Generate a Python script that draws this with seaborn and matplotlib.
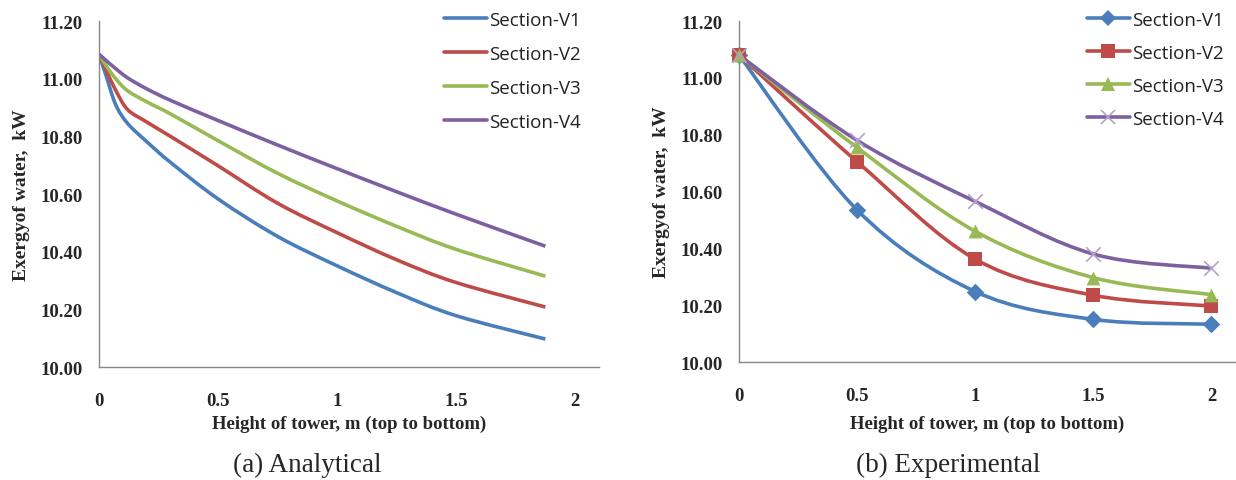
import numpy as np
import matplotlib
matplotlib.use("Agg")
import matplotlib.pyplot as plt
from matplotlib.path import Path
from matplotlib.patches import PathPatch
from matplotlib.lines import Line2D
import seaborn as sns
import pandas as pd

# data
sections = ["Section-V1", "Section-V2", "Section-V3", "Section-V4"]
colors = ["#4A7EBB", "#BE4B48", "#98B954", "#7D60A0"]
marker_colors = ["#4A7EBB", "#BE4B48", "#98B954", "#B3A2C7"]
markers = ["D", "s", "^", "x"]

# (a) analytical
h_ana = [0, 0.03, 0.07, 0.12, 0.2, 0.3, 0.5, 0.75, 1.0, 1.25, 1.5, 1.875]
ana_v1 = [11.085, 11.01, 10.91, 10.845, 10.782, 10.71, 10.583, 10.453, 10.351, 10.258, 10.178, 10.097]
ana_v2 = [11.085, 11.03, 10.96, 10.893, 10.85, 10.80, 10.698, 10.568, 10.466, 10.372, 10.293, 10.208]
ana_v3 = [11.085, 11.045, 11.0, 10.958, 10.92, 10.878, 10.785, 10.672, 10.576, 10.488, 10.408, 10.315]
ana_v4 = [11.085, 11.063, 11.035, 11.003, 10.965, 10.925, 10.855, 10.77, 10.688, 10.608, 10.53, 10.419]

# (b) experimental
h_exp = [0, 0.5, 1, 1.5, 2]
exp_v1 = [11.08, 10.535, 10.248, 10.15, 10.133]
exp_v2 = [11.08, 10.705, 10.362, 10.235, 10.197]
exp_v3 = [11.08, 10.755, 10.46, 10.297, 10.237]
exp_v4 = [11.08, 10.78, 10.565, 10.38, 10.33]

xticks = [0, 0.5, 1, 1.5, 2]
xtick_labels = ["0", "0.5", "1", "1.5", "2"]
yticks = [10.0, 10.2, 10.4, 10.6, 10.8, 11.0, 11.2]


def smooth_path(x, y):
    # Excel-like smoothed line: cubic bezier through every point
    p = np.column_stack([x, y]).astype(float)
    p = np.vstack([p[0], p, p[-1]])
    verts = [tuple(p[1])]
    codes = [Path.MOVETO]
    for i in range(1, len(p) - 2):
        c1 = p[i] + (p[i + 1] - p[i - 1]) / 6
        c2 = p[i + 1] - (p[i + 2] - p[i]) / 6
        verts += [tuple(c1), tuple(c2), tuple(p[i + 1])]
        codes += [Path.CURVE4] * 3
    return Path(verts, codes)


sns.set_style("white")
serif = ["Liberation Serif", "DejaVu Serif"]
sans = ["Open Sans", "DejaVu Sans"]
gray = "#868686"
lw = 2.6

fig = plt.figure(figsize=(12.36, 4.81), dpi=100)
ax1 = fig.add_axes([0.0801, 0.2349, 0.4045, 0.7193])
ax2 = fig.add_axes([0.5979, 0.2453, 0.4013, 0.7089])


def style_axes(ax, xpad, lpad):
    ax.set_xlim(0, 2.1)
    ax.set_ylim(10.0, 11.2)
    ax.set_xticks(xticks)
    ax.set_xticklabels(xtick_labels)
    ax.set_yticks(yticks)
    ax.set_yticklabels([f"{v:.2f}" for v in yticks])
    for s in ["top", "right"]:
        ax.spines[s].set_visible(False)
    for s in ["left", "bottom"]:
        ax.spines[s].set_color(gray)
        ax.spines[s].set_linewidth(1.0)
    ax.tick_params(axis="both", direction="in", length=6, width=1, color=gray,
                   labelsize=13.5)
    ax.tick_params(axis="y", pad=12)
    ax.tick_params(axis="x", pad=xpad)
    for lab in ax.get_xticklabels() + ax.get_yticklabels():
        lab.set_family(serif)
        lab.set_fontweight("bold")
    ax.set_xlabel("Height of tower, m (top to bottom)", family=serif,
                  fontweight="bold", fontsize=13.5, labelpad=lpad)
    ax.set_ylabel("Exergyof water,  kW", family=serif, fontweight="bold",
                  fontsize=14, labelpad=7)


ana = [ana_v1, ana_v2, ana_v3, ana_v4]
for vals, c in zip(ana, colors):
    ax1.add_patch(PathPatch(smooth_path(h_ana, vals), facecolor="none",
                            edgecolor=c, lw=lw))
style_axes(ax1, 18, 4)

exp = [exp_v1, exp_v2, exp_v3, exp_v4]
msizes = [80, 110, 100, 110]
for vals, c, mc, m, ms in zip(exp, colors, marker_colors, markers, msizes):
    ax2.add_patch(PathPatch(smooth_path(h_exp, vals), facecolor="none",
                            edgecolor=c, lw=lw))
    df = pd.DataFrame({"h": h_exp, "e": vals})
    if m == "x":
        sns.scatterplot(data=df, x="h", y="e", marker=m, s=ms, color=mc,
                        linewidth=1.2, ax=ax2, zorder=3, clip_on=False)
    else:
        sns.scatterplot(data=df, x="h", y="e", marker=m, s=ms, color=mc,
                        edgecolor=mc, linewidth=0, ax=ax2, zorder=3, clip_on=False)
style_axes(ax2, 18, 8)

# legends
h1 = [Line2D([], [], color=c, lw=lw) for c in colors]
leg1 = ax1.legend(h1, sections, loc="upper left", bbox_to_anchor=(0.663, 1.068),
                  frameon=False, handlelength=2.3, handletextpad=0.1,
                  labelspacing=0.86, borderpad=0.2,
                  prop={"family": sans, "size": 13.5})
h2 = [Line2D([], [], color=c, lw=lw, marker=m, markersize=ms,
             markerfacecolor=mc, markeredgecolor=mc,
             markeredgewidth=(1.2 if m == "x" else 0))
      for c, mc, m, ms in zip(colors, marker_colors, markers, [8, 10, 10, 10])]
leg2 = ax2.legend(h2, sections, loc="upper left", bbox_to_anchor=(0.675, 1.068),
                  frameon=False, handlelength=2.3, handletextpad=0.1,
                  labelspacing=0.8, borderpad=0.2,
                  prop={"family": sans, "size": 13.5})
for leg in (leg1, leg2):
    for t in leg.get_texts():
        t.set_color("#222222")

cap_y = 1 - 465 / 481
fig.text(0.2484, cap_y, "(a) Analytical", family=serif, fontsize=19.5,
         ha="center", va="center")
fig.text(0.767, cap_y, "(b) Experimental", family=serif, fontsize=19.5,
         ha="center", va="center")

fig.savefig("out.png", dpi=100)
